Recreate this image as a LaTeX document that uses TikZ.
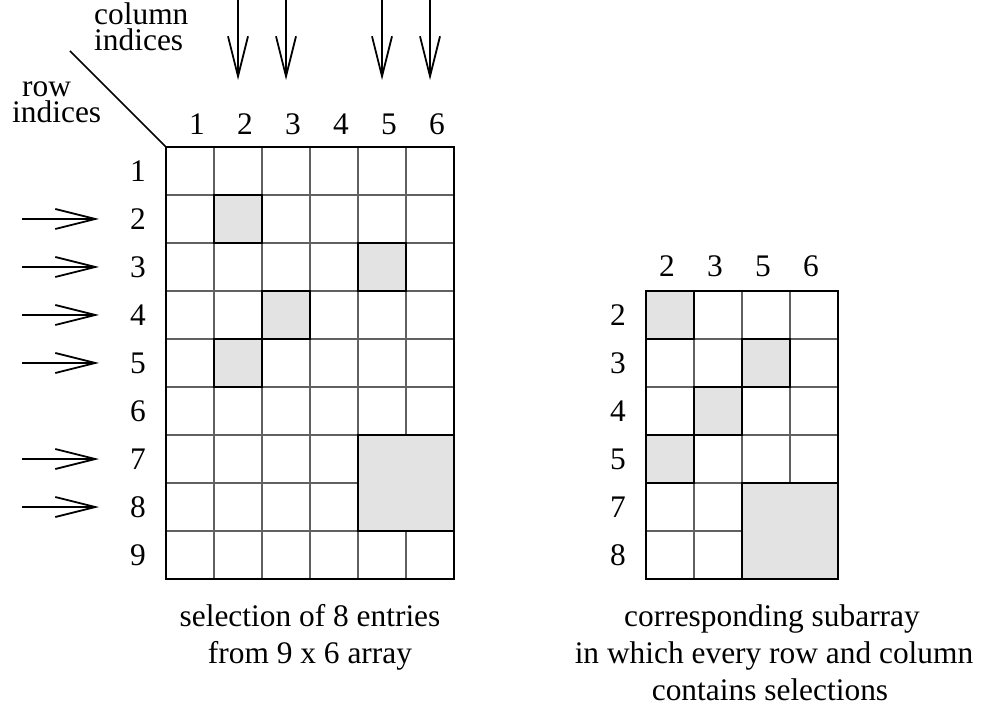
\documentclass[tikz,border=0pt]{standalone}
\usepackage{fontspec}
\setmainfont{Liberation Serif}
\usetikzlibrary{arrows.meta}
\begin{document}
\begin{tikzpicture}[x=1pt,y=-1pt,
  lbl/.style={inner sep=0pt,anchor=base,font=\fontsize{31.4}{37.7}\selectfont},
  stack/.style={inner sep=0pt,anchor=south west,align=left,font=\fontsize{31.4}{25.5}\selectfont},
  inner/.style={draw=black!62,line width=1.3pt},
  outer/.style={draw=black,line width=2.2pt},
  sel/.style={draw=black,fill=black!11,line width=2.4pt},
  pointer/.style={line width=1.8pt,-{Straight Barb[length=40pt,width=20pt]}}]
\useasboundingbox (0,0) rectangle (985,708);
% ---------- left grid ----------
\foreach \i in {1,...,5} \draw[inner] (166+48*\i,147) -- (166+48*\i,579);
\foreach \j in {1,...,8} \draw[inner] (166,147+48*\j) -- (454,147+48*\j);
\draw[sel] (214,195) rectangle (262,243);
\draw[sel] (358,243) rectangle (406,291);
\draw[sel] (262,291) rectangle (310,339);
\draw[sel] (214,339) rectangle (262,387);
\draw[sel] (358,435) rectangle (454,531);
\draw[outer] (166,147) rectangle (454,579);
\coordinate (gl) at (166,147);
\coordinate (ds) at (70,51);
\draw[line width=1.6pt] (ds) -- (gl);
\foreach \i in {1,...,6} \node[lbl] (lc\i) at (197+48*\i-48,135) {\i};
\foreach \j in {1,...,9} \node[lbl] (lr\j) at (138,181.6+48*\j-48) {\j};
% ---------- right grid ----------
\foreach \i in {1,...,3} \draw[inner] (646+48*\i,291) -- (646+48*\i,579);
\foreach \j in {1,...,5} \draw[inner] (646,291+48*\j) -- (838,291+48*\j);
\draw[sel] (646,291) rectangle (694,339);
\draw[sel] (742,339) rectangle (790,387);
\draw[sel] (694,387) rectangle (742,435);
\draw[sel] (646,435) rectangle (694,483);
\draw[sel] (742,483) rectangle (838,579);
\draw[outer] (646,291) rectangle (838,579);
\foreach \c [count=\i] in {2,3,5,6} \node[lbl] (rc\i) at (667+48*\i-48,277) {\c};
\foreach \r [count=\j] in {2,3,4,5,7,8} \node[lbl] (rr\j) at (618,325.6+48*\j-48) {\r};
% ---------- arrows ----------
\foreach \x [count=\k] in {238,286,382,430} {
  \coordinate (ct\k) at (\x,0);
  \coordinate (cb\k) at (\x,80);
  \draw[pointer] (ct\k) -- (cb\k);
}
\foreach \y [count=\k] in {219,267,315,363,459,507} {
  \coordinate (rl\k) at (22,\y);
  \coordinate (rt\k) at (99,\y);
  \draw[pointer] (rl\k) -- (rt\k);
}
% ---------- texts ----------
\node[stack] (ci) at (94,51) {column\\indices};
\node[stack] (ri) at (12,123) {\hspace*{10pt}row\\indices};
\node[lbl] (cap1) at (310,626) {selection of 8 entries};
\node[lbl] (cap2) at (310,663) {from 9 x 6 array};
\node[lbl] (cap3) at (772,626) {corresponding subarray};
\node[lbl] (cap4) at (774,663) {in which every row and column};
\node[lbl] (cap5) at (770,700) {contains selections};
\end{tikzpicture}
\end{document}
